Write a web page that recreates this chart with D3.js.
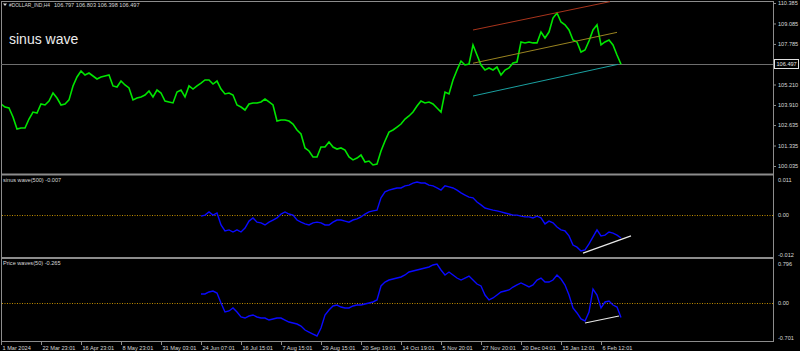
<!DOCTYPE html>
<html><head><meta charset="utf-8">
<script src="https://cdn.jsdelivr.net/npm/d3@7"></script>
<style>html,body{margin:0;padding:0;background:#000;}svg{display:block;}</style>
</head><body>
<script>
// ---------- DATA ----------
const symbolName = "#DOLLAR_IND,H4";
const symbolQuotes = "106.797 106.803 106.398 106.497";
const chartTitle = "sinus wave";
const sinusLabel = "sinus wave(500) -0.007";
const priceWavesLabel = "Price waves(50) -0.265";
const lastPrice = 106.497;

// time labels every 10 bar-groups
const timeLabels = ["1 Mar 2024","22 Mar 23:01","16 Apr 23:01","8 May 23:01","31 May 03:01","24 Jun 07:01",
  "16 Jul 15:01","7 Aug 15:01","29 Aug 15:01","20 Sep 19:01","14 Oct 19:01","5 Nov 20:01",
  "27 Nov 20:01","20 Dec 04:01","15 Jan 12:01","6 Feb 12:01"];
const timeTickIdx = timeLabels.map((d,i)=>i*10);

const priceTicks = [110.385,109.085,107.785,105.210,103.910,102.635,101.335,100.035];
const sinusTicks = [0.011,0,-0.012];
const wavesTicks = [0.796,0,-0.701];

// close prices (index 0..155)
const closes = [103.97,103.78,103.72,103.15,102.38,102.45,102.45,103.02,103.46,103.40,
 103.97,103.91,104.16,104.67,104.35,103.91,103.97,104.23,105.12,105.69,
 106.07,105.81,105.94,105.75,105.56,105.69,105.75,105.81,105.12,105.05,
 105.43,105.18,104.99,104.23,104.35,104.42,104.54,104.80,104.42,104.86,
 104.67,104.16,104.10,104.04,104.73,104.86,104.42,105.12,104.92,105.12,
 105.30,105.50,105.50,105.24,105.43,104.92,104.61,104.67,104.54,103.91,
 103.78,103.59,103.97,104.04,104.04,104.10,104.29,104.10,103.91,102.89,
 102.96,102.96,102.89,102.70,102.32,102.07,101.18,100.99,100.61,100.61,
 101.24,101.24,101.56,101.24,101.11,101.18,101.05,100.61,100.42,100.54,
 100.73,100.29,100.35,100.10,100.16,100.99,101.62,102.19,102.32,102.51,
 102.70,103.02,103.21,103.46,103.84,104.16,104.04,104.10,103.97,103.72,
 103.46,104.73,104.61,105.50,106.13,106.70,106.45,106.51,107.72,107.08,
 106.45,106.13,106.26,106.13,106.32,105.81,106.13,106.26,106.58,106.64,
 107.91,107.85,107.91,107.85,107.85,108.54,108.16,108.54,109.43,109.75,
 109.18,109.00,108.67,108.04,107.91,107.27,107.40,107.97,108.67,109.00,
 107.72,107.91,108.04,107.72,107.08,106.497];

// indicator series start at index 50
const indStart = 50;
const sinusWave = [-0.0004,-0.0001,0.0008,-0.0001,0.0005,-0.0029,-0.0046,-0.0043,-0.0049,-0.0043,
 -0.0049,-0.0038,-0.0018,-0.0009,-0.0021,-0.0023,-0.0029,-0.0021,-0.0015,-0.0009,
 0.0002,0.0008,0.0002,-0.0001,-0.0015,-0.0021,-0.0026,-0.0029,-0.0023,-0.0021,
 -0.0023,-0.0029,-0.0029,-0.0021,-0.0015,-0.0015,-0.0018,-0.0021,-0.0015,-0.0012,
 -0.0006,0.0002,0.0008,0.0011,0.0013,0.0048,0.0065,0.0070,0.0073,0.0076,
 0.0076,0.0082,0.0084,0.0090,0.0093,0.0090,0.0090,0.0084,0.0082,0.0076,
 0.0070,0.0082,0.0079,0.0076,0.0070,0.0062,0.0056,0.0050,0.0048,0.0036,
 0.0028,0.0019,0.0016,0.0013,0.0011,0.0008,0.0005,0.0002,-0.0001,-0.0001,
 -0.0004,-0.0006,-0.0006,-0.0009,-0.0004,-0.0009,-0.0026,-0.0018,-0.0023,-0.0035,
 -0.0043,-0.0046,-0.0060,-0.0086,-0.0092,-0.0103,-0.0100,-0.0083,-0.0063,-0.0043,
 -0.0060,-0.0058,-0.0049,-0.0052,-0.0058,-0.0066];
const priceWaves = [0.168,0.168,0.205,0.223,0.186,0.001,-0.165,-0.146,-0.091,-0.165,
 -0.257,-0.276,-0.239,-0.220,-0.257,-0.276,-0.276,-0.313,-0.294,-0.276,
 -0.276,-0.313,-0.350,-0.368,-0.387,-0.424,-0.498,-0.535,-0.572,-0.608,
 -0.461,-0.220,-0.128,-0.054,-0.036,-0.073,-0.091,-0.091,-0.054,-0.036,
 -0.036,-0.017,0.001,0.020,0.057,0.316,0.389,0.426,0.445,0.463,
 0.482,0.519,0.574,0.593,0.611,0.630,0.648,0.667,0.704,0.722,
 0.611,0.519,0.574,0.519,0.463,0.426,0.463,0.500,0.426,0.352,
 0.316,0.149,0.057,0.094,0.149,0.205,0.223,0.242,0.297,0.334,
 0.371,0.334,0.297,0.334,0.426,0.463,0.389,0.389,0.426,0.519,
 0.445,0.334,0.149,-0.091,-0.183,-0.294,-0.331,-0.165,0.260,0.149,
 -0.091,0.020,0.038,-0.036,-0.073,-0.265];

// trend lines [[idx0, v0],[idx1, v1]]
const channelTop = [[118,108.67],[152.25,110.47]];
const channelMid = [[118,106.56],[154,108.52]];
const channelLow = [[118,104.48],[154.25,106.49]];
const sinusTrend = [[145.5,-0.0109],[157.5,-0.0060]];
const wavesTrend = [[146,-0.368],[154.5,-0.239]];

// ---------- LAYOUT ----------
const W = 800, H = 351;
const axisX = 773;
const mainBot = 174;
const p2Bot = 258;
const p3Bot = 341;
const font = "'Liberation Sans', Arial, sans-serif";
const small = 5.6;
const txtCol = "#d8d8d8";

const svg = d3.select("body").append("svg").attr("width",W).attr("height",H)
  .style("background","#000");

const x = d3.scaleLinear().domain([0,193]).range([1,773]);
const yMain = d3.scaleLinear().domain([100.035,110.385]).range([166,3]);
const y2 = d3.scaleLinear().domain([-0.012,0.011]).range([257,176]);
const y3 = d3.scaleLinear().domain([-0.701,0.796]).range([341,260]);

// frames
const frameColor = "#8c8c8c";
function hline(yv, x1, x2, col, w, dash){
  svg.append("line").attr("x1",x1).attr("x2",x2).attr("y1",yv).attr("y2",yv)
    .attr("stroke",col).attr("stroke-width",w||1).attr("stroke-dasharray",dash||null);
}
svg.append("line").attr("x1",1.5).attr("x2",1.5).attr("y1",1).attr("y2",p3Bot).attr("stroke",frameColor);
svg.append("line").attr("x1",axisX+0.5).attr("x2",axisX+0.5).attr("y1",1).attr("y2",p3Bot+1).attr("stroke",frameColor);
hline(1.5,1,axisX,frameColor,1);
hline(mainBot+0.5,1,axisX,frameColor,2);
hline(p2Bot,1,axisX,frameColor,2);
hline(p3Bot+0.5,1,axisX+1,frameColor,1);

// current price line
hline(Math.round(yMain(lastPrice))+0.5,1,axisX,"#6e6e6e",1);

const clipMain = svg.append("clipPath").attr("id","cm").append("rect")
  .attr("x",2).attr("y",2).attr("width",axisX-2).attr("height",mainBot-2);

// price line
const lineMain = d3.line().x((d,i)=>x(i)).y(d=>yMain(d));
svg.append("path").datum(closes).attr("d",lineMain)
  .attr("fill","none").attr("stroke","#00e600").attr("stroke-width",1.6)
  .attr("stroke-linejoin","miter")
  .attr("clip-path","url(#cm)");

// channel lines
const seg = d3.line().x(d=>x(d[0])).y(d=>yMain(d[1]));
[[channelTop,"#a8341c"],[channelMid,"#9a8420"],[channelLow,"#1aa0a0"]].forEach(([d,c])=>{
  svg.append("path").datum(d).attr("d",seg).attr("fill","none").attr("stroke",c).attr("stroke-width",1);
});

// zero dotted lines
hline(Math.round(y2(0))+0.5,2,axisX,"#c08c00",1,"1,1.5");
hline(Math.round(y3(0))+0.5,2,axisX,"#c08c00",1,"1,1.5");

// indicator lines
const l2 = d3.line().x((d,i)=>x(i+indStart)).y(d=>y2(d));
svg.append("path").datum(sinusWave).attr("d",l2).attr("fill","none").attr("stroke","#0a0aff").attr("stroke-width",1.4);
const l3 = d3.line().x((d,i)=>x(i+indStart)).y(d=>y3(d));
svg.append("path").datum(priceWaves).attr("d",l3).attr("fill","none").attr("stroke","#0a0aff").attr("stroke-width",1.4);

svg.append("path").datum(sinusTrend).attr("d",d3.line().x(d=>x(d[0])).y(d=>y2(d[1])))
  .attr("fill","none").attr("stroke","#e8e8e8").attr("stroke-width",1.2);
svg.append("path").datum(wavesTrend).attr("d",d3.line().x(d=>x(d[0])).y(d=>y3(d[1])))
  .attr("fill","none").attr("stroke","#e8e8e8").attr("stroke-width",1.2);

// ---------- AXES ----------
function styleAxis(g){
  g.select(".domain").remove();
  g.selectAll("line").attr("stroke",frameColor);
  g.selectAll("text").attr("fill",txtCol).style("font-family",font).style("font-size",small+"px");
}
const axMain = svg.append("g").attr("transform",`translate(${axisX},0)`)
  .call(d3.axisRight(yMain).tickValues(priceTicks).tickFormat(d=>d.toFixed(3)).tickSize(3).tickPadding(2));
styleAxis(axMain);

const ax2 = svg.append("g").attr("transform",`translate(${axisX},0)`)
  .call(d3.axisRight(y2).tickValues(sinusTicks).tickFormat(d=>d===0?"0.00":d.toFixed(3)).tickSize(0).tickPadding(5));
styleAxis(ax2);
ax2.selectAll(".tick text").attr("dy",(d)=> d>0?"0.95em": d<0?"-0.05em":"0.32em");

const ax3 = svg.append("g").attr("transform",`translate(${axisX},0)`)
  .call(d3.axisRight(y3).tickValues(wavesTicks).tickFormat(d=>d===0?"0.00":d.toFixed(3)).tickSize(0).tickPadding(5));
styleAxis(ax3);
ax3.selectAll(".tick text").attr("dy",(d)=> d>0?"0.95em": d<0?"-0.2em":"0.32em");

const axT = svg.append("g").attr("transform",`translate(0,${p3Bot+1})`)
  .call(d3.axisBottom(x).tickValues(timeTickIdx).tickFormat((d,i)=>timeLabels[i]).tickSize(3).tickPadding(1));
styleAxis(axT);
axT.selectAll(".tick text").attr("text-anchor","start").attr("x",1);

// current price box
const pb = svg.append("g").attr("transform",`translate(${axisX+1},${Math.round(yMain(lastPrice))})`);
pb.append("rect").attr("x",0.5).attr("y",-4.5).attr("width",24).attr("height",9)
  .attr("fill","#000").attr("stroke","#e0e0e0").attr("stroke-width",1);
pb.append("text").attr("x",2.5).attr("y",0).attr("dy","0.35em").text(lastPrice.toFixed(3))
  .attr("fill","#e0e0e0").style("font-family",font).style("font-size",small+"px");

// ---------- TEXTS ----------
svg.append("path").attr("d","M3,3.5 L7,3.5 L5,6 Z").attr("fill",txtCol);
svg.append("text").attr("x",9).attr("y",5).attr("dy","0.35em").text(symbolName)
  .attr("textLength",41).attr("lengthAdjust","spacingAndGlyphs")
  .attr("fill",txtCol).style("font-family",font).style("font-size",small+"px");
svg.append("text").attr("x",54).attr("y",5).attr("dy","0.35em").text(symbolQuotes)
  .attr("fill",txtCol).style("font-family",font).style("font-size",small+"px");
svg.append("text").attr("x",9).attr("y",44).text(chartTitle)
  .attr("fill","#ececec").style("font-family",font).style("font-size","14px");
svg.append("text").attr("x",3).attr("y",180).attr("dy","0.35em").text(sinusLabel)
  .attr("fill",txtCol).style("font-family",font).style("font-size",small+"px");
svg.append("text").attr("x",3).attr("y",263).attr("dy","0.35em").text(priceWavesLabel)
  .attr("fill",txtCol).style("font-family",font).style("font-size",small+"px");
</script>
</body></html>
